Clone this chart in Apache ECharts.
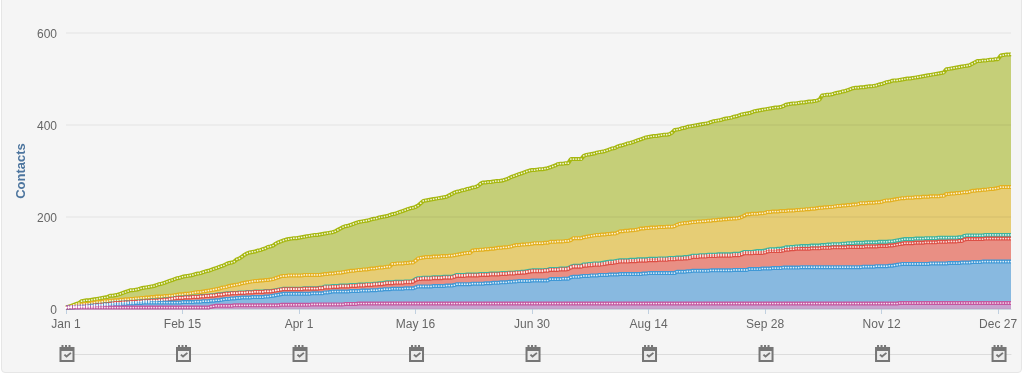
<!DOCTYPE html>
<html>
<head>
<meta charset="utf-8">
<title>Contacts</title>
<script src="https://cdn.jsdelivr.net/npm/echarts@6/dist/echarts.min.js"></script>
<style>
    html, body { margin: 0; padding: 0; background: #fff; overflow: hidden; }
    .panel { position: absolute; left: 1px; top: -6px; width: 1021px; height: 379px; box-sizing: border-box;
        background: #f5f5f5; border: 1px solid #e6e6e6; border-radius: 4px; }
    .chart { position: absolute; left: 0; top: 0; width: 1024px; height: 376px; }
</style>
</head>
<body>
<div class="panel"></div>
<div class="chart"></div>
<script>
// cumulative contacts per day, top line of each band
var greenTop = [
    3,5,7,9,11,13,17,18,19,19, 20,21,22,23,24,25,26,29,29,30, 31,33,35,37,39,41,41,42,43,45,
    46,47,48,49,50,52,54,55,57,59, 61,63,65,67,68,70,71,72,73,74, 76,77,78,80,82,83,85,87,89,91,
    93,95,98,100,101,103,108,110,114,118, 121,123,124,125,127,128,130,132,135,136, 138,142,145,147,149,151,152,153,154,154,
    155,156,157,158,159,160,161,161,162,163, 164,165,166,167,169,172,175,178,180,181, 183,185,187,189,190,191,192,193,195,196,
    197,199,200,201,202,204,206,207,209,211, 213,215,217,219,220,222,225,230,235,236, 237,238,239,240,241,242,243,244,247,250,
    253,255,256,258,259,261,262,264,265,267, 272,275,275,276,276,277,278,278,279,280, 282,284,287,289,291,293,295,297,299,301,
    302,302,303,304,304,305,306,308,310,312, 315,316,316,317,317,326,326,326,326,326, 333,335,336,337,338,340,341,342,343,345,
    347,349,350,353,355,356,358,360,361,363, 365,367,369,371,373,374,375,376,376,377, 378,379,379,380,383,389,390,391,393,394,
    396,397,398,399,400,401,402,403,404,406, 408,409,410,411,413,414,415,416,418,419, 421,423,424,425,426,428,430,431,432,433,
    434,435,436,437,438,438,439,441,444,445, 446,447,447,448,449,449,450,451,451,452, 453,455,464,465,466,466,467,469,470,471,
    473,474,476,478,480,481,481,482,482,483, 484,484,485,486,488,489,491,493,494,496, 497,497,498,499,500,501,501,502,503,504,
    505,506,507,508,509,510,511,512,513,514, 521,522,523,524,525,526,527,528,529,530, 533,536,539,539,540,540,541,542,542,543,
    543,551,552,553,553,554
];
var yellowTop = [
    3,4,5,6,7,9,10,11,11,12, 13,14,15,15,16,17,17,18,18,19, 19,20,20,21,21,22,22,23,23,24,
    24,25,25,26,26,27,27,27,28,28, 29,29,30,31,32,32,33,33,34,35, 36,37,37,38,39,40,41,42,43,44,
    46,47,48,50,51,52,53,54,56,57, 58,59,60,61,61,62,62,63,63,64, 65,67,69,71,72,72,73,73,73,73,
    73,73,74,74,74,74,74,74,74,75, 76,76,77,77,78,79,79,80,81,82, 83,83,84,85,85,86,86,87,88,88,
    89,90,90,91,92,92,98,98,99,99, 99,100,100,101,101,105,110,111,112,113, 113,113,114,114,114,115,115,115,116,116,
    117,118,119,120,121,122,122,127,128,128, 129,129,130,130,131,131,132,133,133,134, 134,135,136,138,139,139,140,140,141,141,
    142,143,143,143,143,144,144,146,146,146, 147,147,147,148,148,150,154,154,154,154, 156,157,158,159,160,161,161,162,162,163,
    163,164,164,166,169,169,170,170,171,171, 172,173,175,175,176,176,177,177,177,178, 178,178,179,179,179,180,183,185,186,187,
    187,188,189,189,190,190,191,191,192,192, 193,193,194,194,195,195,196,196,197,197, 198,200,203,206,206,207,207,207,208,208,
    209,211,211,212,212,212,213,213,213,214, 214,214,215,215,216,216,217,217,218,218, 219,220,220,221,221,222,222,223,224,224,
    225,225,226,226,227,227,228,230,230,230, 231,231,231,232,232,233,235,236,236,237, 238,239,240,241,241,242,242,242,243,243,
    243,244,244,244,245,245,245,245,246,246, 250,250,251,251,252,252,253,254,254,255, 257,257,258,258,259,259,260,261,261,262,
    263,265,265,265,265,265
];
var tealTop = [
    3,3,4,4,5,5,6,6,7,7, 8,9,9,10,10,11,11,12,13,14, 14,14,15,15,15,16,16,16,17,17,
    18,18,18,19,19,19,20,20,21,21, 22,23,24,25,25,25,26,26,26,27, 27,27,28,28,29,29,30,30,31,32,
    32,33,34,34,35,35,35,36,36,36, 37,37,37,38,38,38,38,39,39,39, 40,41,42,43,44,44,44,44,44,44,
    44,44,45,45,45,45,45,45,46,46, 49,49,49,50,50,50,51,51,51,51, 52,52,52,53,53,53,54,54,54,55,
    55,56,56,57,58,58,58,59,59,59, 59,60,60,60,61,65,67,67,68,68, 68,68,69,69,69,69,70,70,70,70,
    72,74,74,74,74,75,75,75,75,75, 76,76,76,76,77,77,77,77,78,78, 78,79,79,79,80,80,81,81,82,83,
    84,84,84,84,84,85,85,87,87,87, 87,88,88,88,89,92,94,94,94,94, 97,97,98,98,99,99,99,100,101,102,
    103,103,104,105,106,106,106,106,107,107, 107,108,108,108,108,109,109,109,109,110, 110,110,110,111,111,111,112,112,112,113,
    113,114,116,116,116,117,117,117,118,118, 118,118,119,119,119,119,119,119,120,120, 120,122,124,124,124,124,125,126,126,126,
    127,129,130,130,130,131,131,132,134,134, 135,135,136,136,137,137,137,137,138,138, 138,138,139,139,140,140,141,141,141,141,
    142,142,143,143,143,144,144,144,144,145, 145,145,145,145,146,146,146,146,147,147, 148,149,150,151,152,152,152,152,153,153,
    153,153,154,154,154,154,154,155,155,155, 155,155,155,155,155,156,156,159,160,160, 160,160,160,160,160,161,161,161,161,161,
    161,161,161,161,161,161
];
var redTop = [
    3,3,4,4,5,5,6,6,7,7, 7,8,8,9,9,10,10,11,12,13, 13,13,14,14,14,15,15,15,16,16,
    17,17,17,18,18,18,19,19,20,20, 21,22,23,24,24,24,25,25,25,26, 26,26,27,27,28,28,29,29,30,31,
    31,32,33,33,34,34,34,35,35,35, 36,36,36,37,37,37,37,38,38,38, 39,40,41,42,43,43,43,43,43,43,
    43,43,44,44,44,44,44,44,45,45, 47,47,47,48,48,48,49,49,49,49, 50,50,50,51,51,51,52,52,52,53,
    53,54,54,55,56,56,56,57,57,57, 57,58,58,58,59,63,65,65,66,66, 66,66,67,67,67,67,68,68,68,68,
    70,72,72,72,72,73,73,73,73,73, 74,74,74,74,75,75,75,75,76,76, 76,77,77,77,78,78,79,79,80,81,
    82,82,82,82,82,83,83,85,85,85, 85,86,86,86,87,90,92,92,92,92, 94,94,95,95,96,96,96,97,98,99,
    100,100,101,102,103,103,103,103,104,104, 104,105,105,105,105,106,106,106,106,107, 107,107,107,108,108,108,109,109,109,110,
    110,111,113,113,113,114,114,114,115,115, 115,115,116,116,116,116,116,116,117,117, 117,119,121,121,121,121,122,122,122,122,
    123,125,126,126,126,126,126,127,129,129, 130,130,131,131,131,131,131,131,132,132, 132,132,133,133,133,133,134,134,134,134,
    134,134,135,135,135,135,135,135,135,136, 136,136,136,136,137,137,137,137,138,138, 139,140,141,142,143,143,143,143,144,144,
    144,144,145,145,145,145,145,146,146,146, 146,147,147,147,147,148,148,151,152,152, 152,152,152,152,152,153,153,153,153,153,
    153,153,153,153,153,153
];
var blueTop = [
    3,3,3,4,4,4,5,5,5,6, 6,6,7,7,7,8,8,9,9,10, 10,10,11,11,12,12,12,13,13,13,
    14,14,14,14,14,14,14,14,14,14, 14,14,14,14,14,15,15,15,15,15, 16,16,16,17,17,17,18,18,19,19,
    20,21,22,22,23,23,24,24,25,25, 25,25,26,26,26,26,26,27,27,28, 29,30,31,32,33,33,33,33,33,33,
    33,33,33,33,33,34,34,34,34,34, 36,36,37,38,38,38,38,38,38,38, 39,39,39,39,40,40,40,40,41,41,
    41,42,42,43,43,43,44,44,44,44, 44,45,45,45,45,47,49,49,49,49, 49,49,50,50,50,50,50,51,51,51,
    52,54,54,54,54,54,54,55,55,55, 55,55,56,56,56,57,57,57,58,58, 58,59,59,60,60,61,61,61,61,61,
    62,62,62,62,62,62,62,65,65,65, 65,65,66,66,66,69,70,70,70,71, 72,72,72,73,73,73,74,74,74,74,
    75,75,75,75,76,76,76,76,76,76, 76,76,76,77,77,78,78,78,78,78, 78,78,78,78,78,78,81,81,81,81,
    82,82,83,83,83,83,83,83,83,84, 84,84,84,84,84,84,84,84,85,85, 85,85,85,85,87,87,87,87,87,88,
    88,88,88,89,89,89,89,90,90,90, 90,90,90,90,91,91,91,91,91,91, 91,91,91,91,91,91,91,91,91,91,
    91,91,91,91,91,91,91,91,92,92, 92,92,92,93,93,93,93,93,94,94, 95,96,97,98,98,98,98,98,98,98,
    98,98,98,98,99,99,99,99,99,99, 99,100,100,100,100,100,101,101,101,101, 102,102,102,102,103,103,103,103,103,103,
    103,103,103,103,103,103
];
var pinkTop = [
    3,3,3,3,3,3,3,3,3,3, 3,3,3,3,3,3,3,3,3,3, 3,3,3,3,3,3,3,3,3,3,
    3,3,3,3,3,3,3,3,3,3, 3,3,3,3,3,3,3,3,3,3, 3,3,3,3,3,3,5,6,7,7,
    7,7,7,7,7,8,8,8,8,8, 8,8,8,8,8,8,8,8,8,8, 8,8,8,9,9,9,9,9,9,9,
    9,9,9,9,9,10,10,10,10,10, 10,10,10,10,10,10,10,10,11,11, 11,11,11,12,12,12,12,12,12,12,
    12,12,12,12,12,12,12,12,12,12, 12,12,12,12,12,12,12,12,12,12, 12,12,12,12,12,12,12,12,12,12,
    12,12,12,12,12,12,12,12,12,12, 12,12,12,12,12,12,12,12,12,12, 12,12,12,12,12,12,12,12,12,12,
    12,12,12,12,12,12,12,12,12,12, 12,12,12,12,12,12,12,12,12,12, 12,12,12,12,12,12,12,12,12,12,
    12,12,12,12,12,12,12,12,12,12, 12,12,12,12,12,12,12,12,12,12, 12,12,12,12,12,12,12,12,12,12,
    12,12,12,12,12,12,12,12,12,12, 12,12,12,12,12,12,12,12,12,12, 12,12,12,12,12,12,12,12,12,12,
    12,12,12,12,12,12,12,12,12,12, 12,12,12,12,12,12,12,12,12,12, 12,12,12,12,12,12,12,12,12,12,
    12,12,12,12,12,12,12,12,12,12, 12,12,12,12,12,12,12,12,12,12, 12,12,13,13,13,13,13,13,13,13,
    13,13,13,13,13,13,13,13,13,13, 13,13,13,13,13,13,13,13,13,13, 13,13,13,13,13,13,13,13,13,13,
    13,13,13,13,13,13
];
var flagDays = [0, 45, 90, 135, 180, 225, 270, 315, 360];

var monthNames = ["Jan","Feb","Mar","Apr","May","Jun","Jul","Aug","Sep","Oct","Nov","Dec"];
var days = (function () {
    var arr = [];
    for(var i = 0; i < greenTop.length; i++){
        var d = new Date(2013, 0, 1 + i);
        arr.push(monthNames[d.getMonth()] + " " + d.getDate());
    }
    return arr;
})();

var CAL_BODY = "path://M0 0H15V15H0Z";
var CAL_FRAME = "path://M2 0H4V2H5.5V0H7.5V2H9V0H11V2H15V17H0V2H2Z M2 6V15H13V6Z M4.2 10.2L5.6 8.9L7 10.2L10.8 7.2L12 8.4L7 12.8Z";

function everyFlag(i) {
    return i % 45 === 0;
}

function band(name, data, line, fill) {
    return {
        name : name,
        type : "line",
        data : data,
        xAxisIndex : 0,
        yAxisIndex : 0,
        clip : false,
        showSymbol : true,
        showAllSymbol : true,
        symbol : "circle",
        symbolSize : 1.7,
        lineStyle : { color : line, width : 4 },
        itemStyle : { color : "#ffffff", borderWidth : 0, opacity : 0.85 },
        areaStyle : { color : fill, opacity : 1 }
    };
}

var option = {
    animation : false,
    backgroundColor : "transparent",
    textStyle : { fontFamily : "'Liberation Sans', Arial, sans-serif" },
    tooltip : { trigger : "axis" },
    grid : [
        { left : 66, right : 13, top : 33, height : 276 },
        { left : 66, right : 13, top : 353, height : 1 }
    ],
    xAxis : [
        {
            type : "category",
            gridIndex : 0,
            data : days,
            boundaryGap : false,
            axisLine : { lineStyle : { color : "#d5dfe9", width : 1 } },
            axisTick : { interval : everyFlag, length : 5, lineStyle : { color : "#c0d0e0", width : 1 } },
            axisLabel : { interval : everyFlag, color : "#666", fontSize : 12, margin : 10 }
        },
        {
            type : "category",
            gridIndex : 1,
            data : days,
            boundaryGap : false,
            axisLine : { lineStyle : { color : "#dcdcdc", width : 1 } },
            axisTick : { show : false },
            axisLabel : { show : false }
        }
    ],
    yAxis : [
        {
            type : "value",
            gridIndex : 0,
            min : 0,
            max : 600,
            interval : 200,
            z : 4,
            name : "Contacts",
            nameLocation : "middle",
            nameGap : 38,
            nameMoveOverlap : false,
            nameTextStyle : { color : "#4d759e", fontWeight : "bold", fontSize : 13 },
            axisLine : { show : false },
            axisTick : { show : false },
            axisLabel : { color : "#666", fontSize : 12, margin : 9, verticalAlign : "top", lineHeight : 4 },
            splitLine : { lineStyle : { color : "rgba(0,0,0,0.05)", width : 1.5 } }
        },
        {
            type : "value",
            gridIndex : 1,
            show : false,
            min : 0,
            max : 1
        }
    ],
    series : [
        band("Green", greenTop, "#a6b70f", "#c5cf78"),
        band("Yellow", yellowTop, "#e3b01f", "#e6cd75"),
        band("Teal", tealTop, "#3db39e", "#e98f84"),
        band("Red", redTop, "#dd4f45", "#e98f84"),
        band("Blue", blueTop, "#3f98d6", "#88b9e0"),
        band("Pink", pinkTop, "#c4569f", "#c9a3cf"),
        {
            name : "Notes",
            type : "scatter",
            xAxisIndex : 1,
            yAxisIndex : 1,
            silent : true,
            symbol : CAL_BODY,
            symbolSize : [13, 14],
            symbolOffset : [1, 0],
            itemStyle : { color : "#ececec", opacity : 1 },
            tooltip : { show : false },
            data : flagDays.map(function (d) { return [d, 0.5]; })
        },
        {
            name : "NotesFrame",
            type : "scatter",
            xAxisIndex : 1,
            yAxisIndex : 1,
            silent : true,
            symbol : CAL_FRAME,
            symbolSize : [15, 17],
            symbolOffset : [1, 0],
            itemStyle : { color : "#767676", opacity : 1 },
            tooltip : { show : false },
            data : flagDays.map(function (d) { return [d, 0.5]; })
        }
    ]
};

var chart = echarts.init(document.querySelector(".chart"));
chart.setOption(option);

window.addEventListener("resize", function () {
    chart.resize();
});
</script>
</body>
</html>
